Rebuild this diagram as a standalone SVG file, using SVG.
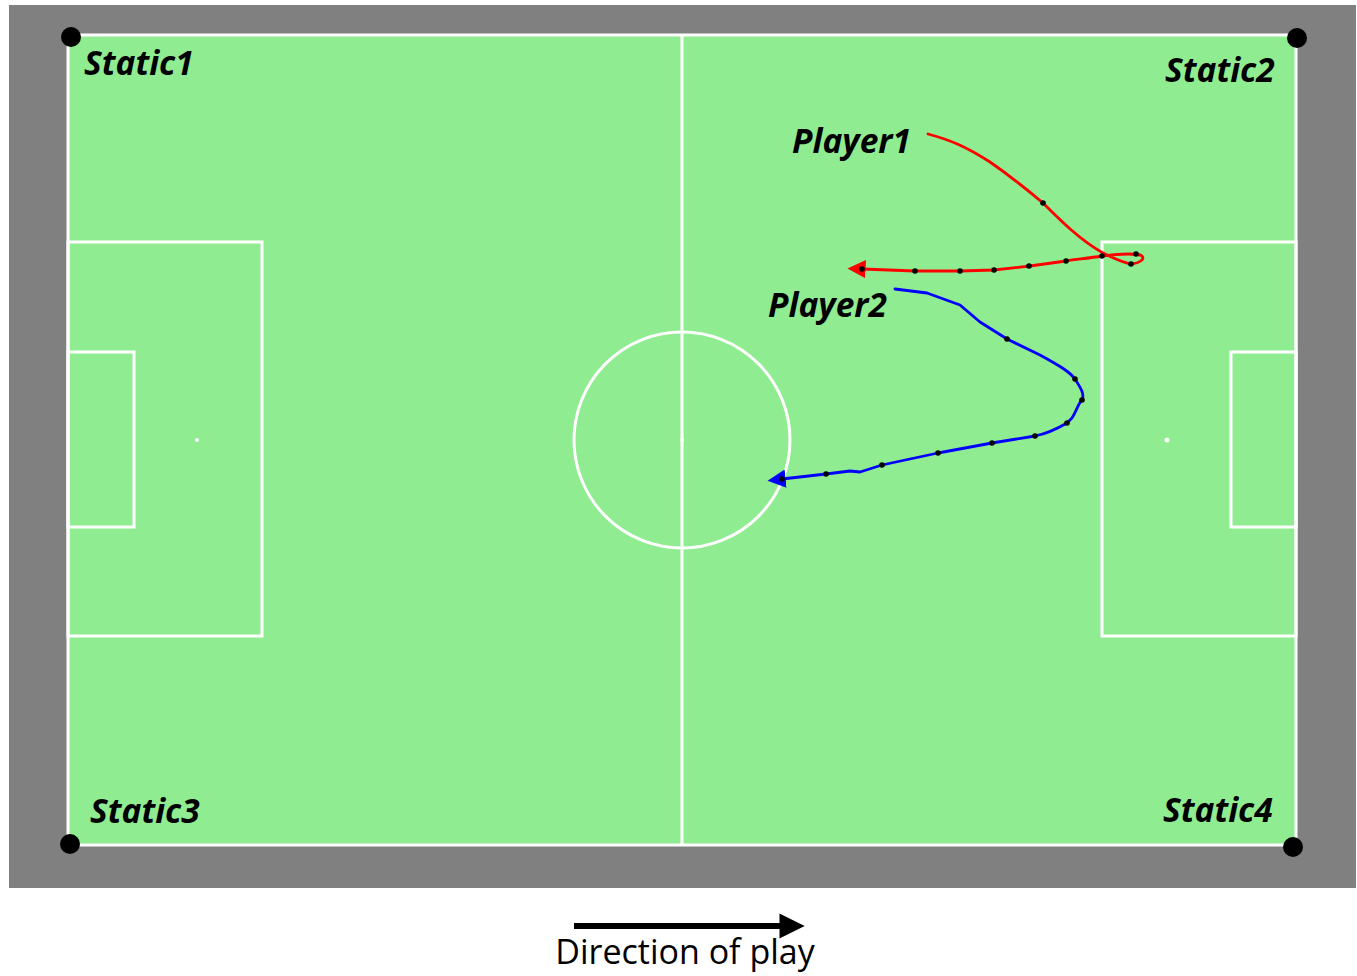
<svg xmlns="http://www.w3.org/2000/svg" width="1357" height="976" viewBox="0 0 1357 976">
<style>
.line{fill:none;stroke:#ffffff;stroke-width:3}
.lbl{font-family:"Open Sans","Liberation Sans",sans-serif;font-weight:bold;font-style:italic;font-size:33.5px;fill:#000}
.corner{fill:#000}
.dot{fill:#000}
.trk{fill:none;stroke-width:2.8;stroke-linejoin:round;stroke-linecap:round}
</style>
<defs>
<marker id="ar" viewBox="0 0 10 10" refX="2" refY="5" markerWidth="6.5" markerHeight="6.5" orient="auto" markerUnits="strokeWidth"><path d="M0,0 L10,5 L0,10 z" fill="#ff0000"/></marker>
<marker id="ab" viewBox="0 0 10 10" refX="2" refY="5" markerWidth="6.5" markerHeight="6.5" orient="auto" markerUnits="strokeWidth"><path d="M0,0 L10,5 L0,10 z" fill="#0000ff"/></marker>
<marker id="ak" viewBox="0 0 10 10" refX="1" refY="5" markerWidth="4.2" markerHeight="4.2" orient="auto" markerUnits="strokeWidth"><path d="M0,0 L10,5 L0,10 z" fill="#000"/></marker>
</defs>
<rect width="1357" height="976" fill="#ffffff"/>
<g id="pitch">
<rect x="9" y="5" width="1347" height="883" fill="#808080"/>
<rect x="68" y="35" width="1228" height="810" fill="#90ec90"/>
<rect class="line" x="68" y="35" width="1228" height="810"/>
<line class="line" x1="682" y1="35" x2="682" y2="845"/>
<circle class="line" cx="682" cy="440" r="108"/>
<circle cx="682" cy="440" r="2" fill="#fff"/>
<rect class="line" x="68" y="242" width="194" height="394"/>
<rect class="line" x="68" y="352" width="66" height="175"/>
<rect class="line" x="1102" y="242" width="194" height="394"/>
<rect class="line" x="1231" y="352" width="65" height="175"/>
<circle cx="197" cy="440" r="2" fill="#fff"/>
<circle cx="1167" cy="440" r="2.5" fill="#fff"/>
</g>
<g id="static1"><circle class="corner" cx="71" cy="37" r="10"/><text class="lbl" x="84" y="75">Static1</text></g>
<g id="static2"><circle class="corner" cx="1297" cy="38" r="10"/><text class="lbl" x="1165" y="82">Static2</text></g>
<g id="static3"><circle class="corner" cx="70" cy="844" r="10"/><text class="lbl" x="90" y="823">Static3</text></g>
<g id="static4"><circle class="corner" cx="1293" cy="847" r="10"/><text class="lbl" x="1163" y="822">Static4</text></g>
<g id="player1">
<text class="lbl" x="792" y="153">Player1</text>
<path class="trk" stroke="#ff0000" marker-end="url(#ar)" d="M928,134 C950,140 965,146 990,162 C1013,178 1030,192 1043,203 C1060,220 1080,240 1103,253 C1115,259 1125,263 1131,264 C1140,263 1145,259 1142,256 C1140,254 1136,254 1128,254 C1118,254 1110,255 1102,256 C1090,258 1080,259 1066,261 L1030,266 L994,270 L960,271 L915,271 L862,269"/>
<g class="dot">
<circle cx="1043" cy="203" r="2.8"/><circle cx="1136" cy="254" r="2.8"/><circle cx="1131" cy="264" r="2.8"/><circle cx="1102" cy="256" r="2.8"/><circle cx="1066" cy="261" r="2.8"/><circle cx="1029" cy="266" r="2.8"/><circle cx="994" cy="270" r="2.8"/><circle cx="960" cy="271" r="2.8"/><circle cx="915" cy="271" r="2.8"/><circle cx="862" cy="269" r="2.8"/>
</g>
</g>
<g id="player2">
<text class="lbl" x="768" y="317">Player2</text>
<path class="trk" stroke="#0000ff" marker-end="url(#ab)" d="M895,289 L927,293 L960,305 L980,322 L1007,339 L1040,355 C1060,366 1070,372 1075,379 C1080,387 1085,394 1082,400 C1078,404 1076,412 1072,418 L1067,423 C1055,430 1045,434 1035,436 L992,443 L938,453 L882,465 L860,472 L850,471 L826,474 L782,479"/>
<g class="dot">
<circle cx="1007" cy="339" r="2.8"/><circle cx="1075" cy="379" r="2.8"/><circle cx="1082" cy="400" r="2.8"/><circle cx="1067" cy="423" r="2.8"/><circle cx="1035" cy="436" r="2.8"/><circle cx="992" cy="443" r="2.8"/><circle cx="938" cy="453" r="2.8"/><circle cx="882" cy="465" r="2.8"/><circle cx="826" cy="474" r="2.8"/><circle cx="782" cy="479" r="2.8"/>
</g>
</g>
<g id="direction">
<line x1="574" y1="926" x2="782" y2="926" stroke="#000" stroke-width="6" marker-end="url(#ak)"/>
<text x="685" y="964" text-anchor="middle" font-family="Open Sans, Liberation Sans, sans-serif" font-size="34" fill="#000">Direction of play</text>
</g>
</svg>
